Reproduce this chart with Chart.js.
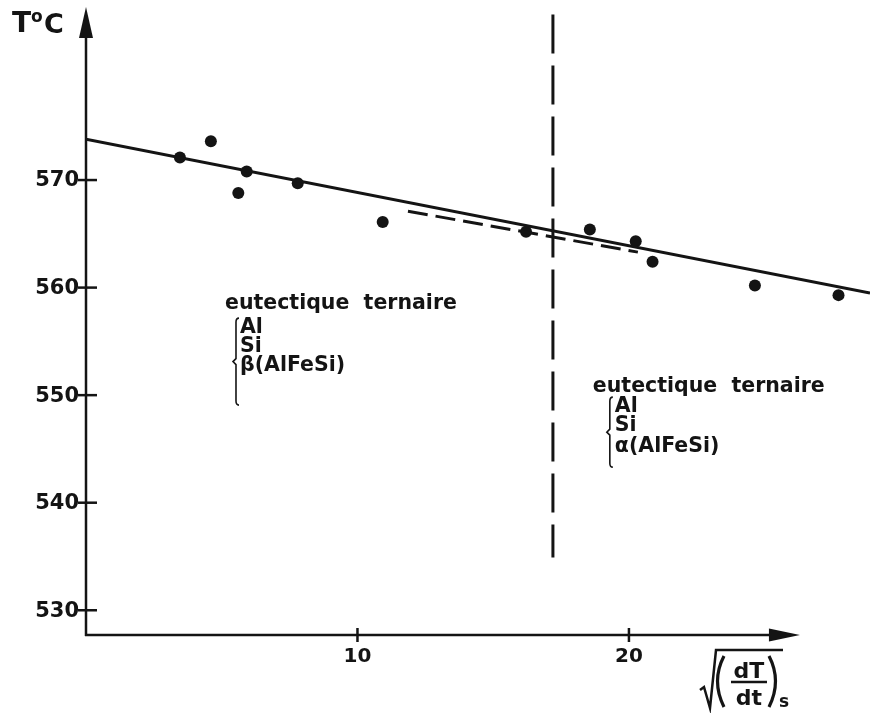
<!DOCTYPE html>
<html>
<head>
<meta charset="utf-8">
<script src="https://cdn.jsdelivr.net/npm/chart.js@4/dist/chart.umd.min.js"></script>
<style>
  html, body { margin: 0; padding: 0; background: #fff; }
  #wrap { width: 870px; height: 713px; position: relative; }
</style>
</head>
<body>
<div id="wrap"><canvas id="diagram"></canvas></div>
<script>
// measured points: sqrt((dT/dt)s) against temperature (°C)
const rateRoot = [3.46, 4.60, 5.61, 5.92, 7.80, 10.93, 16.21, 18.56, 20.25, 20.87, 24.64, 27.72];
const tempC    = [572.1, 573.6, 568.8, 570.8, 569.7, 566.1, 565.2, 565.4, 564.3, 562.4, 560.2, 559.3];

// straight line fitted through all points
const fitRoot = [0, 28.88];
const fitTemp = [573.8, 559.5];

// dashed estimate over the middle range
const dashRoot = [11.86, 20.33];
const dashTemp = [567.1, 563.3];

// boundary between the two ternary eutectics
const limitRoot = [17.2, 17.2];
const limitTemp = [585.4, 534.9];

const tempTicks = [530, 540, 550, 560, 570];
const rootTicks = [10, 20];

const X_MIN = 0, X_MAX = 28.88;
const Y_MIN = 527.7, Y_MAX = 586.74;

const INK = '#141414';
const FONT = '"DejaVu Sans", "Liberation Sans", sans-serif';

const pairs = (xs, ys) => xs.map((v, i) => ({ x: v, y: ys[i] }));

// text blocks naming the eutectic on each side of the boundary
const blocks = [
  { root: 5.12, temp: 558.0, head: 'eutectique ternaire', items: ['Al', 'Si', 'β(AlFeSi)'],
    itemDx: 15, itemDy: [24, 43, 62], braceDx: 11, braceTop: 9, braceBottom: 96 },
  { root: 18.67, temp: 550.28, head: 'eutectique ternaire', items: ['Al', 'Si', 'α(AlFeSi)'],
    itemDx: 22, itemDy: [20, 39, 60], braceDx: 17, braceTop: 5, braceBottom: 75 }
];

function brace(ctx, bx, top, bottom) {
  const mid = (top + bottom) / 2;
  ctx.beginPath();
  ctx.moveTo(bx + 3, top);
  ctx.quadraticCurveTo(bx, top, bx, top + 4);
  ctx.lineTo(bx, mid - 3);
  ctx.lineTo(bx - 3, mid);
  ctx.lineTo(bx, mid + 3);
  ctx.lineTo(bx, bottom - 4);
  ctx.quadraticCurveTo(bx, bottom, bx + 3, bottom);
  ctx.stroke();
}

const decor = {
  id: 'decor',
  afterDraw(chart) {
    const { ctx, scales: { x, y } } = chart;
    const x0 = x.getPixelForValue(X_MIN);
    const y0 = y.getPixelForValue(Y_MIN);
    const xEnd = x.getPixelForValue(26.3);
    const yEnd = y.getPixelForValue(586.1);

    ctx.save();
    ctx.strokeStyle = INK;
    ctx.fillStyle = INK;
    ctx.lineCap = 'butt';

    // axes with arrow heads
    ctx.lineWidth = 2.5;
    ctx.beginPath();
    ctx.moveTo(x0, y0 + 1);
    ctx.lineTo(x0, yEnd + 20);
    ctx.moveTo(x0 - 1, y0);
    ctx.lineTo(xEnd - 20, y0);
    ctx.stroke();

    ctx.beginPath();
    ctx.moveTo(x0, yEnd);
    ctx.lineTo(x0 - 7, yEnd + 31);
    ctx.lineTo(x0 + 7, yEnd + 31);
    ctx.closePath();
    ctx.fill();

    ctx.beginPath();
    ctx.moveTo(xEnd, y0);
    ctx.lineTo(xEnd - 31, y0 - 6.5);
    ctx.lineTo(xEnd - 31, y0 + 6.5);
    ctx.closePath();
    ctx.fill();

    // temperature ticks
    ctx.font = 'bold 21px ' + FONT;
    ctx.textAlign = 'right';
    ctx.textBaseline = 'middle';
    tempTicks.forEach(t => {
      const py = y.getPixelForValue(t);
      ctx.beginPath();
      ctx.moveTo(x0 - 8, py);
      ctx.lineTo(x0 + 11, py);
      ctx.stroke();
      ctx.fillText(String(t), x0 - 7, py + 1);
    });

    // root ticks
    ctx.textAlign = 'center';
    ctx.textBaseline = 'alphabetic';
    ctx.font = 'bold 20px ' + FONT;
    rootTicks.forEach(r => {
      const px = x.getPixelForValue(r);
      ctx.beginPath();
      ctx.moveTo(px, y0 - 7);
      ctx.lineTo(px, y0 + 7);
      ctx.stroke();
      ctx.fillText(String(r), px, y0 + 27);
    });

    // y title T°C
    ctx.textAlign = 'left';
    ctx.font = 'bold 28px ' + FONT;
    ctx.fillText('T', 12, 32);
    ctx.font = 'bold 17px ' + FONT;
    ctx.fillText('o', 31, 22);
    ctx.font = 'bold 27px ' + FONT;
    ctx.fillText('C', 44, 33);

    // x title: square root of (dT/dt)s
    ctx.lineWidth = 2.5;
    ctx.beginPath();
    ctx.moveTo(700, 690);
    ctx.lineTo(704, 687);
    ctx.lineTo(710, 708);
    ctx.lineTo(716, 650);
    ctx.lineTo(783, 650);
    ctx.stroke();
    ctx.lineWidth = 3.2;
    ctx.beginPath();
    ctx.moveTo(724, 656);
    ctx.quadraticCurveTo(711, 681, 724, 707);
    ctx.moveTo(769, 656);
    ctx.quadraticCurveTo(782, 681, 769, 707);
    ctx.stroke();
    ctx.lineWidth = 2.5;
    ctx.beginPath();
    ctx.moveTo(731, 682);
    ctx.lineTo(767, 682);
    ctx.stroke();
    ctx.textAlign = 'center';
    ctx.font = 'bold 22px ' + FONT;
    ctx.fillText('dT', 749, 678);
    ctx.fillText('dt', 749, 705);
    ctx.textAlign = 'left';
    ctx.font = 'bold 17px ' + FONT;
    ctx.fillText('s', 779, 707);

    // eutectic notes
    ctx.lineWidth = 1.6;
    blocks.forEach(b => {
      const bx = x.getPixelForValue(b.root);
      const by = y.getPixelForValue(b.temp);
      ctx.font = 'bold 20.5px ' + FONT;
      ctx.fillText(b.head.replace(' ', '  '), bx, by);
      b.items.forEach((s, i) => ctx.fillText(s, bx + b.itemDx, by + b.itemDy[i]));
      brace(ctx, bx + b.braceDx, by + b.braceTop, by + b.braceBottom);
    });

    ctx.restore();
  }
};

new Chart(document.getElementById('diagram'), {
  type: 'scatter',
  data: {
    datasets: [
      {
        data: pairs(fitRoot, fitTemp),
        showLine: true, borderColor: INK, borderWidth: 3,
        pointRadius: 0, tension: 0
      },
      {
        data: pairs(dashRoot, dashTemp),
        showLine: true, borderColor: INK, borderWidth: 3,
        borderDash: [20, 8], pointRadius: 0, tension: 0
      },
      {
        data: pairs(limitRoot, limitTemp),
        showLine: true, borderColor: INK, borderWidth: 3,
        borderDash: [39, 12], pointRadius: 0, tension: 0
      },
      {
        data: pairs(rateRoot, tempC),
        showLine: false, pointRadius: 6, pointBorderWidth: 0,
        pointBackgroundColor: INK, pointBorderColor: INK
      }
    ]
  },
  options: {
    responsive: true,
    maintainAspectRatio: false,
    animation: false,
    layout: { autoPadding: false, padding: { left: 86, right: 0, top: 0, bottom: 78 } },
    plugins: { legend: { display: false }, tooltip: { enabled: false } },
    scales: {
      x: { type: 'linear', min: X_MIN, max: X_MAX, display: false },
      y: { type: 'linear', min: Y_MIN, max: Y_MAX, display: false }
    }
  },
  plugins: [decor]
});
</script>
</body>
</html>
